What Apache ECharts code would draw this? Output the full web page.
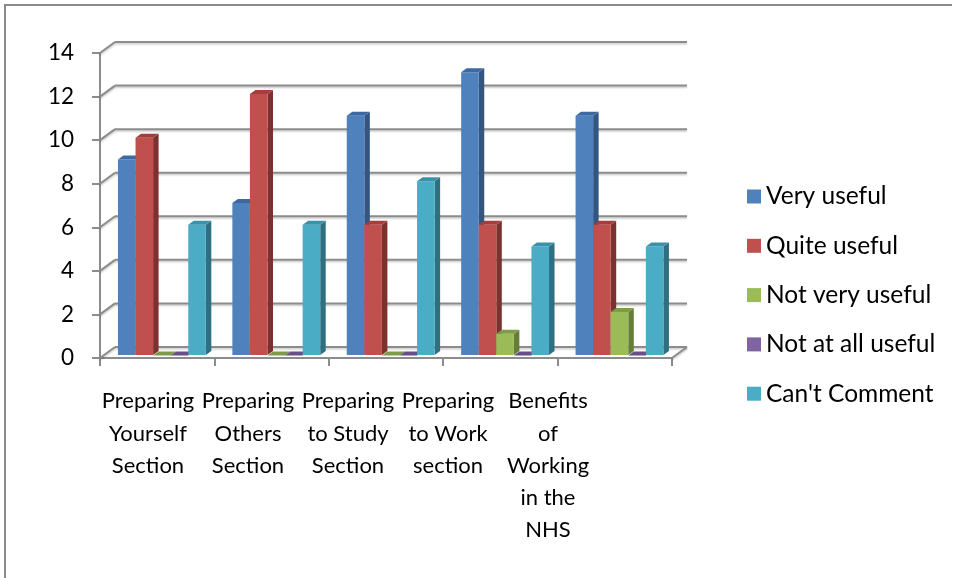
<!DOCTYPE html>
<html>
<head>
<meta charset="utf-8">
<title>Section usefulness ratings</title>
<script src="https://cdn.jsdelivr.net/npm/echarts@6/dist/echarts.min.js"></script>
<style>
  html, body { margin: 0; padding: 0; background: #fff; }
  #chart { width: 953px; height: 578px; }
</style>
</head>
<body>
<div id="chart"></div>
<script>
// Category tick labels (one per section)
const categories = [
  'Preparing\nYourself\nSection',
  'Preparing\nOthers\nSection',
  'Preparing\nto Study\nSection',
  'Preparing\nto Work\nsection',
  'Benefits\nof\nWorking\nin the\nNHS'
];

// Response counts per section
const veryUseful     = [9, 7, 11, 13, 11];
const quiteUseful    = [10, 12, 6, 6, 6];
const notVeryUseful  = [0, 0, 0, 1, 2];
const notAtAllUseful = [0, 0, 0, 0, 0];
const cantComment    = [6, 6, 8, 5, 5];

const seriesNames = ['Very useful', 'Quite useful', 'Not very useful', 'Not at all useful', "Can't Comment"];
const seriesValues = [veryUseful, quiteUseful, notVeryUseful, notAtAllUseful, cantComment];

// Value axis ticks
const yTicks = [0, 2, 4, 6, 8, 10, 12, 14];

// Face colours for each series: front, side, top
const faceColors = [
  { front: '#4F81BD', side: '#34557F', top: '#3D69A2' },
  { front: '#C0504D', side: '#7D312F', top: '#A13F3C' },
  { front: '#9BBB59', side: '#667D3A', top: '#7E9B47' },
  { front: '#8064A2', side: '#54426C', top: '#684F8A' },
  { front: '#4BACC6', side: '#2E6F81', top: '#3A91A9' }
];

const FONT = 'Lato, "Liberation Sans", sans-serif';
const LINE = '#8c8c8c';
const WALL_DX = 15, WALL_DY = -11;       // depth of floor / side wall
const BAR_DX = 5.5, BAR_DY = -4;         // depth of each column
const BAR_SHIFT_Y = -2.5;
const GROUP_START = 0.157;               // fraction of category before first column
const BAR_FRACTION = 0.1536;             // column width as a fraction of category

const lineStyle = {
  stroke: LINE, lineWidth: 2,
  shadowColor: 'rgba(0,0,0,0.22)', shadowBlur: 2, shadowOffsetY: 1.5
};

// Back wall grid lines, left wall diagonals and the floor outline
function renderWalls(params, api) {
  const cs = params.coordSys;
  const v = api.value(1);
  const y = api.coord([0, v])[1];
  const x0 = cs.x, x1 = cs.x + cs.width;
  const children = [
    { type: 'line', shape: { x1: x0, y1: y, x2: x0 + WALL_DX, y2: y + WALL_DY }, style: lineStyle },
    { type: 'line', shape: { x1: x0 + WALL_DX, y1: y + WALL_DY, x2: x1 + WALL_DX, y2: y + WALL_DY }, style: lineStyle }
  ];
  if (v === 0) {
    children.push({ type: 'line', shape: { x1: x1, y1: y, x2: x1 + WALL_DX, y2: y + WALL_DY }, style: lineStyle });
  }
  return { type: 'group', children };
}

// One 3D column: front rectangle, right side and top face
function makeBarRenderer(s) {
  const col = faceColors[s];
  return function (params, api) {
    const i = api.value(0);
    const v = api.value(1);
    const base = api.coord([i, 0]);
    const peak = api.coord([i, v]);
    const cw = api.size([1, 0])[0];
    const w = cw * BAR_FRACTION;
    const left = base[0] - cw / 2 + cw * GROUP_START + s * w;
    const right = left + w;
    const bottom = base[1] - 3;
    const top = peak[1] + BAR_SHIFT_Y;
    const children = [];
    if (bottom - top > 0.5) {
      children.push({
        type: 'polygon',
        shape: { points: [[right, top], [right + BAR_DX, top + BAR_DY], [right + BAR_DX, bottom + BAR_DY], [right, bottom]] },
        style: { fill: col.side }
      });
      children.push({
        type: 'rect',
        shape: { x: left, y: top, width: w, height: bottom - top },
        style: { fill: col.front }
      });
    }
    children.push({
      type: 'polygon',
      shape: { points: [[left, top], [left + BAR_DX, top + BAR_DY], [right + BAR_DX, top + BAR_DY], [right, top]] },
      style: { fill: col.top }
    });
    return { type: 'group', children };
  };
}

const barSeries = seriesNames.map((name, s) => ({
  name,
  type: 'custom',
  xAxisIndex: 0,
  yAxisIndex: 0,
  itemStyle: { color: faceColors[s].front },
  renderItem: makeBarRenderer(s),
  encode: { x: 0, y: 1 },
  data: seriesValues[s].map((v, i) => [i, v]),
  z: 3
}));

const chart = echarts.init(document.getElementById('chart'), null, { renderer: 'canvas' });
chart.setOption({
  animation: false,
  backgroundColor: '#fff',
  graphic: [{
    type: 'polyline',
    shape: { points: [[5, 590], [5, 5], [952, 5]] },
    style: { stroke: '#8a8a8a', lineWidth: 2, fill: null },
    silent: true
  }],
  grid: [
    { left: 100, right: 281, top: 53, bottom: 220 },
    { left: 98, width: 500, top: 53, bottom: 220 }
  ],
  legend: {
    data: seriesNames,
    orient: 'vertical',
    left: 747,
    top: 184,
    padding: 0,
    itemWidth: 14,
    itemHeight: 14,
    itemGap: 24.3,
    icon: 'rect',
    textStyle: { fontFamily: FONT, fontSize: 24.5, color: '#000', lineHeight: 24 }
  },
  xAxis: [
    {
      type: 'category',
      gridIndex: 0,
      data: categories,
      axisLine: { show: true, lineStyle: { color: LINE, width: 2 } },
      axisTick: { show: true, length: 8, lineStyle: { color: LINE, width: 2 } },
      axisLabel: { show: false },
      splitLine: { show: false }
    },
    {
      type: 'category',
      gridIndex: 1,
      data: categories,
      axisLine: { show: false },
      axisTick: { show: false },
      axisLabel: {
        interval: 0, margin: 27, fontFamily: FONT, fontSize: 22, lineHeight: 32.3, color: '#000', align: 'center'
      }
    }
  ],
  yAxis: [
    {
      type: 'value',
      gridIndex: 0,
      min: 0, max: 14, interval: 2,
      axisLine: { show: true, lineStyle: { color: LINE, width: 2 } },
      axisTick: { show: true, length: 8, lineStyle: { color: LINE, width: 2 } },
      axisLabel: { margin: 26, fontFamily: FONT, fontSize: 22.5, color: '#000' },
      splitLine: { show: false }
    },
    {
      type: 'value', gridIndex: 1, min: 0, max: 14, show: false
    }
  ],
  series: [
    {
      name: 'walls',
      type: 'custom',
      xAxisIndex: 0,
      yAxisIndex: 0,
      silent: true,
      renderItem: renderWalls,
      encode: { x: 0, y: 1 },
      data: yTicks.map(v => [0, v]),
      z: 1
    }
  ].concat(barSeries)
});
</script>
</body>
</html>
